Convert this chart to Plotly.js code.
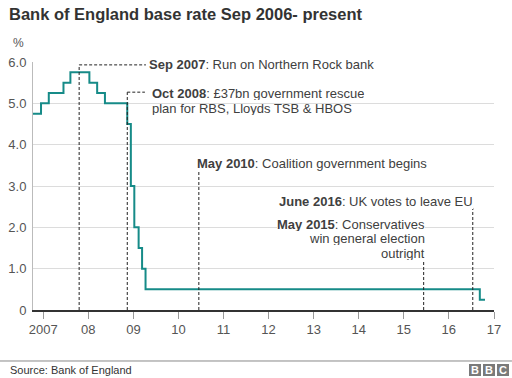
<!DOCTYPE html>
<html>
<head>
<meta charset="utf-8">
<script src="https://cdn.plot.ly/plotly-3.0.1.min.js"></script>
<style>html,body{margin:0;padding:0;background:#fff;}#chart{width:512px;height:378px;}</style>
</head>
<body>
<div id="chart"></div>
<script>
// Bank of England base rate changes (date of change, rate in %)
const rateDates = ['2006-09-05','2006-11-09','2007-01-11','2007-05-10','2007-07-05','2007-12-06','2008-02-07','2008-04-10','2008-10-08','2008-11-06','2008-12-04','2009-01-08','2009-02-05','2009-03-05','2016-08-04','2016-09-15'];
const rateValues = [4.75,5.0,5.25,5.5,5.75,5.5,5.25,5.0,4.5,3.0,2.0,1.5,1.0,0.5,0.25,0.25];

// Events
const eventDates = ['2007-09-14','2008-10-08','2010-05-11','2016-06-08','2015-05-07'];
const eventBold = ['Sep 2007','Oct 2008','May 2010','June 2016','May 2015'];
const eventText = [
  [': Run on Northern Rock bank'],
  [': £37bn government rescue','plan for RBS, Lloyds TSB & HBOS'],
  [': Coalition government begins'],
  [': UK votes to leave EU'],
  [': Conservatives','win general election','outright']
];

// Axis ticks
const yTickVals = [0,1,2,3,4,5,6];
const yTickText = ['0','1.0','2.0','3.0','4.0','5.0','6.0'];
const xTickVals = ['2006-11-27','2007-11-27','2008-11-27','2009-11-27','2010-11-27','2011-11-27','2012-11-27','2013-11-27','2014-11-27','2015-11-27','2016-11-27'];
const xTickText = ['2007','08','09','10','11','12','13','14','15','16','17'];

const FONT = 'Liberation Sans, Arial, Helvetica, sans-serif';
const TXT = '#404040';

// layout positions for labels (paper units) and leader heights
const leaderTop = [5.93, 5.27, 3.34, 2.47, 1.21];
const leaderEnd = ['2009-03-08','2009-02-28', null, null, null];
const labelPos = [
  {x:0.2516, ys:[0.988], anchor:'left'},
  {x:0.2581, ys:[0.873,0.8145], anchor:'left'},
  {x:0.3557, ys:[0.5907], anchor:'left'},
  {x:0.9544, ys:[0.4375], anchor:'right'},
  {x:0.8503, ys:[0.3448,0.2863,0.2278], anchor:'right'}
];

const shapes = [];
const annotations = [];
eventDates.forEach((d,i)=>{
  shapes.push({type:'line', xref:'x', yref:'y', x0:d, x1:d, y0:0, y1:leaderTop[i],
    line:{color:'#222', width:1, dash:'3px,2px'}});
  if (leaderEnd[i]) {
    shapes.push({type:'line', xref:'x', yref:'y', x0:d, x1:leaderEnd[i], y0:leaderTop[i], y1:leaderTop[i],
      line:{color:'#222', width:1, dash:'3px,2px'}});
  }
  const p = labelPos[i];
  const multi = eventText[i].length > 1;
  eventText[i].forEach((t,j)=>{
    const txt = j===0 ? '<b>'+eventBold[i]+'</b>'+t : t;
    const a = {xref:'paper', yref:'paper', x:p.x, y:p.ys[j], xanchor:p.anchor, yanchor:'middle',
      text:txt, showarrow:false, borderpad:0, borderwidth:0,
      font:{family:FONT, size:13, color:TXT}};
    if (j===0) a.bgcolor = '#fff';
    if (multi) a.height = 13;
    annotations.push(a);
  });
});

// % label
annotations.push({xref:'paper', yref:'paper', x:-0.0477, y:1.0766, xanchor:'left', yanchor:'middle',
  text:'%', showarrow:false, font:{family:FONT, size:12, color:'#555'}});
// source
annotations.push({xref:'paper', yref:'paper', x:-0.0542, y:-0.2419, xanchor:'left', yanchor:'middle',
  text:'Source: Bank of England', showarrow:false, font:{family:FONT, size:11, color:'#333'}});
// footer rule
shapes.push({type:'line', xref:'paper', yref:'paper', x0:-0.0716, x1:1.039, y0:-0.2056, y1:-0.2056,
  line:{color:'#888', width:1}});
// BBC logo blocks
const bbc = ['B','B','C'];
bbc.forEach((L,k)=>{
  const px0 = 469 + k*14, px1 = px0 + 12;
  const x0 = (px0-33)/461, x1 = (px1-33)/461;
  const y0 = (310-376)/248, y1 = (310-364)/248;
  shapes.push({type:'rect', xref:'paper', yref:'paper', x0:x0, x1:x1, y0:y0, y1:y1,
    fillcolor:'#7a7a7a', line:{width:0}});
  annotations.push({xref:'paper', yref:'paper', x:(x0+x1)/2, y:(y0+y1)/2, xanchor:'center', yanchor:'middle',
    text:'<b>'+L+'</b>', showarrow:false, font:{family:FONT, size:11, color:'#fff'}});
});

const trace = {
  x: rateDates, y: rateValues, type:'scatter', mode:'lines',
  line:{shape:'hv', color:'#168b88', width:2},
  hoverinfo:'skip', cliponaxis:false
};

const layout = {
  width:512, height:378,
  margin:{l:33, r:18, t:62, b:68},
  paper_bgcolor:'#fff', plot_bgcolor:'#fff',
  showlegend:false,
  title:{text:'<b>Bank of England base rate Sep 2006- present</b>', xref:'container', yref:'container',
    x:9/512, y:1-14/378, xanchor:'left', yanchor:'middle',
    font:{family:FONT, size:16.5, color:'#333'}},
  xaxis:{type:'date', range:['2006-09-05','2016-11-27'], tickmode:'array', tickvals:xTickVals, ticktext:xTickText,
    ticks:'outside', ticklen:7, tickcolor:'#999', tickwidth:1,
    showline:true, linecolor:'#333', linewidth:1.5, showgrid:false, zeroline:false,
    tickfont:{family:FONT, size:13, color:'#555'}, fixedrange:true},
  yaxis:{range:[0,6], tickmode:'array', tickvals:yTickVals, ticktext:yTickText,
    showgrid:true, gridcolor:'#dcdcdc', gridwidth:1, zeroline:false,
    showline:true, linecolor:'#bbb', linewidth:1, ticks:'', ticklabelstandoff:3,
    tickfont:{family:FONT, size:13, color:'#555'}, fixedrange:true},
  shapes:shapes,
  annotations:annotations
};

Plotly.newPlot('chart', [trace], layout, {displayModeBar:false, staticPlot:true});
</script>
</body>
</html>
